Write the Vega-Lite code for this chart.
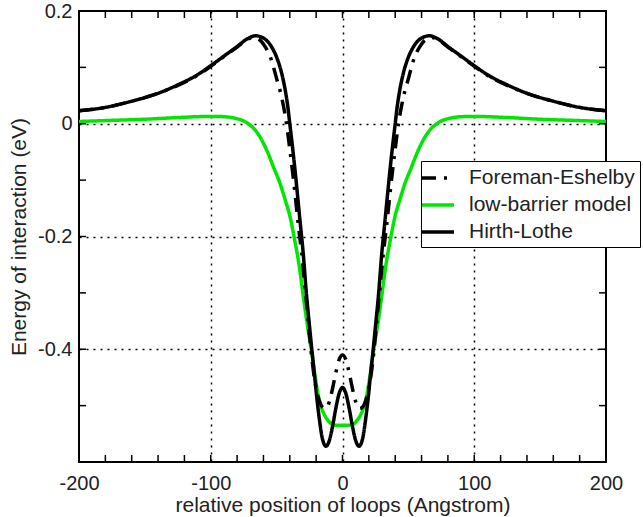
{
  "$schema": "https://vega.github.io/schema/vega-lite/v6.json",
  "width": 527,
  "height": 451,
  "autosize": "none",
  "padding": {"left": 79, "top": 11, "right": 37, "bottom": 55},
  "config": {
    "view": {"stroke": "black", "strokeWidth": 2},
    "font": "Liberation Sans"
  },
  "layer": [
    {
      "data": {"values": [
    {"series":"low-barrier model","x":-200,"y":0.004},{"series":"low-barrier model","x":-175,"y":0.006},{"series":"low-barrier model","x":-150,"y":0.008},{"series":"low-barrier model","x":-125,"y":0.011},{"series":"low-barrier model","x":-100,"y":0.013},{"series":"low-barrier model","x":-90,"y":0.0125},{"series":"low-barrier model","x":-82,"y":0.010},{"series":"low-barrier model","x":-76,"y":0.006},{"series":"low-barrier model","x":-71.5,"y":0.0},{"series":"low-barrier model","x":-66,"y":-0.012},{"series":"low-barrier model","x":-62,"y":-0.026},{"series":"low-barrier model","x":-57.5,"y":-0.047},{"series":"low-barrier model","x":-52,"y":-0.079},{"series":"low-barrier model","x":-47.4,"y":-0.106},{"series":"low-barrier model","x":-43.5,"y":-0.135},{"series":"low-barrier model","x":-39.8,"y":-0.165},{"series":"low-barrier model","x":-36.8,"y":-0.2},{"series":"low-barrier model","x":-33,"y":-0.25},{"series":"low-barrier model","x":-29.7,"y":-0.307},{"series":"low-barrier model","x":-26.5,"y":-0.36},{"series":"low-barrier model","x":-23.8,"y":-0.398},{"series":"low-barrier model","x":-21,"y":-0.445},{"series":"low-barrier model","x":-18.2,"y":-0.484},{"series":"low-barrier model","x":-15.5,"y":-0.507},{"series":"low-barrier model","x":-13.1,"y":-0.519},{"series":"low-barrier model","x":-10,"y":-0.529},{"series":"low-barrier model","x":-7,"y":-0.534},{"series":"low-barrier model","x":-3,"y":-0.535},{"series":"low-barrier model","x":0,"y":-0.535},{"series":"low-barrier model","x":3,"y":-0.535},{"series":"low-barrier model","x":7,"y":-0.534},{"series":"low-barrier model","x":10,"y":-0.529},{"series":"low-barrier model","x":13.1,"y":-0.519},{"series":"low-barrier model","x":15.5,"y":-0.507},{"series":"low-barrier model","x":18.2,"y":-0.484},{"series":"low-barrier model","x":21,"y":-0.445},{"series":"low-barrier model","x":23.8,"y":-0.398},{"series":"low-barrier model","x":26.5,"y":-0.36},{"series":"low-barrier model","x":29.7,"y":-0.307},{"series":"low-barrier model","x":33,"y":-0.25},{"series":"low-barrier model","x":36.8,"y":-0.2},{"series":"low-barrier model","x":39.8,"y":-0.165},{"series":"low-barrier model","x":43.5,"y":-0.135},{"series":"low-barrier model","x":47.4,"y":-0.106},{"series":"low-barrier model","x":52,"y":-0.079},{"series":"low-barrier model","x":57.5,"y":-0.047},{"series":"low-barrier model","x":62,"y":-0.026},{"series":"low-barrier model","x":66,"y":-0.012},{"series":"low-barrier model","x":71.5,"y":0.0},{"series":"low-barrier model","x":76,"y":0.006},{"series":"low-barrier model","x":82,"y":0.010},{"series":"low-barrier model","x":90,"y":0.0125},{"series":"low-barrier model","x":100,"y":0.013},{"series":"low-barrier model","x":125,"y":0.011},{"series":"low-barrier model","x":150,"y":0.008},{"series":"low-barrier model","x":175,"y":0.006},{"series":"low-barrier model","x":200,"y":0.004},

    {"series":"Foreman-Eshelby","x":-200,"y":0.023},{"series":"Foreman-Eshelby","x":-180,"y":0.029},{"series":"Foreman-Eshelby","x":-160,"y":0.040},{"series":"Foreman-Eshelby","x":-140,"y":0.054},{"series":"Foreman-Eshelby","x":-125,"y":0.068},{"series":"Foreman-Eshelby","x":-110,"y":0.086},{"series":"Foreman-Eshelby","x":-100,"y":0.102},{"series":"Foreman-Eshelby","x":-90,"y":0.119},{"series":"Foreman-Eshelby","x":-80,"y":0.136},{"series":"Foreman-Eshelby","x":-72,"y":0.150},{"series":"Foreman-Eshelby","x":-68,"y":0.153},{"series":"Foreman-Eshelby","x":-63,"y":0.149},{"series":"Foreman-Eshelby","x":-58.5,"y":0.136},{"series":"Foreman-Eshelby","x":-55,"y":0.12},{"series":"Foreman-Eshelby","x":-50,"y":0.08},{"series":"Foreman-Eshelby","x":-46,"y":0.045},{"series":"Foreman-Eshelby","x":-42.5,"y":0.0},{"series":"Foreman-Eshelby","x":-40,"y":-0.045},{"series":"Foreman-Eshelby","x":-38,"y":-0.083},{"series":"Foreman-Eshelby","x":-36,"y":-0.125},{"series":"Foreman-Eshelby","x":-33.5,"y":-0.18},{"series":"Foreman-Eshelby","x":-31,"y":-0.23},{"series":"Foreman-Eshelby","x":-28.5,"y":-0.29},{"series":"Foreman-Eshelby","x":-26,"y":-0.35},{"series":"Foreman-Eshelby","x":-24,"y":-0.40},{"series":"Foreman-Eshelby","x":-22,"y":-0.44},{"series":"Foreman-Eshelby","x":-19.5,"y":-0.475},{"series":"Foreman-Eshelby","x":-17,"y":-0.495},{"series":"Foreman-Eshelby","x":-15,"y":-0.503},{"series":"Foreman-Eshelby","x":-13,"y":-0.505},{"series":"Foreman-Eshelby","x":-11,"y":-0.5},{"series":"Foreman-Eshelby","x":-10,"y":-0.493},{"series":"Foreman-Eshelby","x":-7.5,"y":-0.469},{"series":"Foreman-Eshelby","x":-5,"y":-0.441},{"series":"Foreman-Eshelby","x":-2.5,"y":-0.418},{"series":"Foreman-Eshelby","x":0,"y":-0.41},{"series":"Foreman-Eshelby","x":2.5,"y":-0.418},{"series":"Foreman-Eshelby","x":5,"y":-0.441},{"series":"Foreman-Eshelby","x":7.5,"y":-0.469},{"series":"Foreman-Eshelby","x":10,"y":-0.493},{"series":"Foreman-Eshelby","x":11,"y":-0.5},{"series":"Foreman-Eshelby","x":13,"y":-0.505},{"series":"Foreman-Eshelby","x":15,"y":-0.503},{"series":"Foreman-Eshelby","x":17,"y":-0.495},{"series":"Foreman-Eshelby","x":19.5,"y":-0.475},{"series":"Foreman-Eshelby","x":22,"y":-0.44},{"series":"Foreman-Eshelby","x":24,"y":-0.40},{"series":"Foreman-Eshelby","x":26,"y":-0.35},{"series":"Foreman-Eshelby","x":28.5,"y":-0.29},{"series":"Foreman-Eshelby","x":31,"y":-0.23},{"series":"Foreman-Eshelby","x":33.5,"y":-0.18},{"series":"Foreman-Eshelby","x":36,"y":-0.125},{"series":"Foreman-Eshelby","x":38,"y":-0.083},{"series":"Foreman-Eshelby","x":40,"y":-0.045},{"series":"Foreman-Eshelby","x":42.5,"y":0.0},{"series":"Foreman-Eshelby","x":46,"y":0.045},{"series":"Foreman-Eshelby","x":50,"y":0.08},{"series":"Foreman-Eshelby","x":55,"y":0.12},{"series":"Foreman-Eshelby","x":58.5,"y":0.136},{"series":"Foreman-Eshelby","x":63,"y":0.149},{"series":"Foreman-Eshelby","x":68,"y":0.153},{"series":"Foreman-Eshelby","x":72,"y":0.150},{"series":"Foreman-Eshelby","x":80,"y":0.136},{"series":"Foreman-Eshelby","x":90,"y":0.119},{"series":"Foreman-Eshelby","x":100,"y":0.102},{"series":"Foreman-Eshelby","x":110,"y":0.086},{"series":"Foreman-Eshelby","x":125,"y":0.068},{"series":"Foreman-Eshelby","x":140,"y":0.054},{"series":"Foreman-Eshelby","x":160,"y":0.040},{"series":"Foreman-Eshelby","x":180,"y":0.029},{"series":"Foreman-Eshelby","x":200,"y":0.023},

    {"series":"Hirth-Lothe","x":-200,"y":0.023},{"series":"Hirth-Lothe","x":-180,"y":0.029},{"series":"Hirth-Lothe","x":-160,"y":0.040},{"series":"Hirth-Lothe","x":-140,"y":0.054},{"series":"Hirth-Lothe","x":-125,"y":0.069},{"series":"Hirth-Lothe","x":-110,"y":0.087},{"series":"Hirth-Lothe","x":-100,"y":0.103},{"series":"Hirth-Lothe","x":-90,"y":0.12},{"series":"Hirth-Lothe","x":-80,"y":0.137},{"series":"Hirth-Lothe","x":-72,"y":0.151},{"series":"Hirth-Lothe","x":-66,"y":0.156},{"series":"Hirth-Lothe","x":-60,"y":0.152},{"series":"Hirth-Lothe","x":-54,"y":0.137},{"series":"Hirth-Lothe","x":-50,"y":0.118},{"series":"Hirth-Lothe","x":-46,"y":0.088},{"series":"Hirth-Lothe","x":-43.5,"y":0.06},{"series":"Hirth-Lothe","x":-41.5,"y":0.03},{"series":"Hirth-Lothe","x":-40,"y":0.0},{"series":"Hirth-Lothe","x":-38,"y":-0.04},{"series":"Hirth-Lothe","x":-36,"y":-0.083},{"series":"Hirth-Lothe","x":-34,"y":-0.13},{"series":"Hirth-Lothe","x":-32,"y":-0.178},{"series":"Hirth-Lothe","x":-30,"y":-0.225},{"series":"Hirth-Lothe","x":-27.2,"y":-0.307},{"series":"Hirth-Lothe","x":-25,"y":-0.36},{"series":"Hirth-Lothe","x":-23.4,"y":-0.398},{"series":"Hirth-Lothe","x":-21.5,"y":-0.44},{"series":"Hirth-Lothe","x":-19.6,"y":-0.484},{"series":"Hirth-Lothe","x":-17.5,"y":-0.525},{"series":"Hirth-Lothe","x":-15.5,"y":-0.556},{"series":"Hirth-Lothe","x":-14,"y":-0.568},{"series":"Hirth-Lothe","x":-12.5,"y":-0.572},{"series":"Hirth-Lothe","x":-11,"y":-0.568},{"series":"Hirth-Lothe","x":-10,"y":-0.562},{"series":"Hirth-Lothe","x":-7.5,"y":-0.536},{"series":"Hirth-Lothe","x":-5,"y":-0.504},{"series":"Hirth-Lothe","x":-2.5,"y":-0.478},{"series":"Hirth-Lothe","x":0,"y":-0.468},{"series":"Hirth-Lothe","x":2.5,"y":-0.478},{"series":"Hirth-Lothe","x":5,"y":-0.504},{"series":"Hirth-Lothe","x":7.5,"y":-0.536},{"series":"Hirth-Lothe","x":10,"y":-0.562},{"series":"Hirth-Lothe","x":11,"y":-0.568},{"series":"Hirth-Lothe","x":12.5,"y":-0.572},{"series":"Hirth-Lothe","x":14,"y":-0.568},{"series":"Hirth-Lothe","x":15.5,"y":-0.556},{"series":"Hirth-Lothe","x":17.5,"y":-0.525},{"series":"Hirth-Lothe","x":19.6,"y":-0.484},{"series":"Hirth-Lothe","x":21.5,"y":-0.44},{"series":"Hirth-Lothe","x":23.4,"y":-0.398},{"series":"Hirth-Lothe","x":25,"y":-0.36},{"series":"Hirth-Lothe","x":27.2,"y":-0.307},{"series":"Hirth-Lothe","x":30,"y":-0.225},{"series":"Hirth-Lothe","x":32,"y":-0.178},{"series":"Hirth-Lothe","x":34,"y":-0.13},{"series":"Hirth-Lothe","x":36,"y":-0.083},{"series":"Hirth-Lothe","x":38,"y":-0.04},{"series":"Hirth-Lothe","x":40,"y":0.0},{"series":"Hirth-Lothe","x":41.5,"y":0.03},{"series":"Hirth-Lothe","x":43.5,"y":0.06},{"series":"Hirth-Lothe","x":46,"y":0.088},{"series":"Hirth-Lothe","x":50,"y":0.118},{"series":"Hirth-Lothe","x":54,"y":0.137},{"series":"Hirth-Lothe","x":60,"y":0.152},{"series":"Hirth-Lothe","x":66,"y":0.156},{"series":"Hirth-Lothe","x":72,"y":0.151},{"series":"Hirth-Lothe","x":80,"y":0.137},{"series":"Hirth-Lothe","x":90,"y":0.12},{"series":"Hirth-Lothe","x":100,"y":0.103},{"series":"Hirth-Lothe","x":110,"y":0.087},{"series":"Hirth-Lothe","x":125,"y":0.069},{"series":"Hirth-Lothe","x":140,"y":0.054},{"series":"Hirth-Lothe","x":160,"y":0.040},{"series":"Hirth-Lothe","x":180,"y":0.029},{"series":"Hirth-Lothe","x":200,"y":0.023}
      ]},
      "mark": {"type": "line", "strokeWidth": 3.5, "interpolate": "monotone"},
      "encoding": {
        "x": {
          "field": "x", "type": "quantitative",
          "scale": {"domain": [-200, 200], "nice": false, "zero": false},
          "axis": {
            "orient": "bottom",
            "domain": false, "ticks": false,
            "labelFont": "Liberation Sans", "labelFontSize": 20, "labelColor": "#222",
            "labelOverlap": false, "labelFlush": false, "labelBound": false,
            "title": "relative position of loops (Angstrom)",
            "titleFont": "Liberation Sans", "titleFontSize": 21, "titleFontWeight": "normal", "titleColor": "#222",
            "titlePadding": 1,
            "values": [-200,-100,0,100,200],
            "labelExpr": "datum.value < 0 ? '-' + abs(datum.value) : '' + datum.value",
            "labelPadding": 11,
            "grid": true, "gridColor": "black", "gridDash": [2, 5], "gridWidth": 1.5,
            "gridOpacity": {"condition": {"test": "abs(datum.value) < 150", "value": 1}, "value": 0}
          }
        },
        "y": {
          "field": "y", "type": "quantitative",
          "scale": {"domain": [-0.6, 0.2], "nice": false, "zero": false},
          "axis": {
            "orient": "left",
            "domain": false, "ticks": false,
            "labelFont": "Liberation Sans", "labelFontSize": 20, "labelColor": "#222",
            "labelOverlap": false, "labelBound": false,
            "title": "Energy of interaction (eV)",
            "titleFont": "Liberation Sans", "titleFontSize": 21, "titleFontWeight": "normal", "titleColor": "#222",
            "titlePadding": 8,
            "values": [-0.4,-0.2,0,0.2],
            "labelExpr": "abs(datum.value) < 1e-9 ? '0' : (datum.value < 0 ? '-' + format(-datum.value, '.1f') : format(datum.value, '.1f'))",
            "labelPadding": 7,
            "grid": true, "gridColor": "black", "gridDash": [2, 5], "gridWidth": 1.5,
            "gridOpacity": {"condition": {"test": "datum.value < 0.1", "value": 1}, "value": 0}
          }
        },
        "color": {
          "field": "series", "type": "nominal",
          "scale": {"domain": ["Foreman-Eshelby", "low-barrier model", "Hirth-Lothe"], "range": ["black", "#00e600", "black"]},
          "legend": {
            "title": null, "orient": "none", "legendX": 342, "legendY": 150,
            "strokeColor": "black", "fillColor": "white", "padding": 5,
            "labelFont": "Liberation Sans", "labelFontSize": 21, "labelColor": "#222", "labelLimit": 400,
            "symbolType": "M-1.6,0H1.6", "symbolSize": 400, "symbolStrokeWidth": 3.5,
            "labelOffset": 19, "rowPadding": 5
          }
        },
        "strokeDash": {
          "field": "series", "type": "nominal",
          "scale": {"domain": ["Foreman-Eshelby", "low-barrier model", "Hirth-Lothe"], "range": [[14, 8, 3, 8], [1, 0], [1, 0]]},
          "legend": {
            "title": null, "orient": "none", "legendX": 342, "legendY": 150,
            "strokeColor": "black", "fillColor": "white", "padding": 5,
            "labelFont": "Liberation Sans", "labelFontSize": 21, "labelColor": "#222", "labelLimit": 400,
            "symbolType": "M-1.6,0H1.6", "symbolSize": 400, "symbolStrokeWidth": 3.5,
            "labelOffset": 19, "rowPadding": 5
          }
        }
      }
    },
    {
      "data": {"values": [{"t":-180},{"t":-160},{"t":-140},{"t":-120},{"t":-100},{"t":-80},{"t":-60},{"t":-40},{"t":-20},{"t":0},{"t":20},{"t":40},{"t":60},{"t":80},{"t":100},{"t":120},{"t":140},{"t":160},{"t":180}]},
      "mark": {"type": "rule", "color": "black", "strokeWidth": 1.5},
      "encoding": {
        "x": {"field": "t", "type": "quantitative"},
        "y": {"datum": -0.6, "type": "quantitative"},
        "y2": {"datum": -0.5876}
      }
    },
    {
      "data": {"values": [{"t":-180},{"t":-160},{"t":-140},{"t":-120},{"t":-100},{"t":-80},{"t":-60},{"t":-40},{"t":-20},{"t":0},{"t":20},{"t":40},{"t":60},{"t":80},{"t":100},{"t":120},{"t":140},{"t":160},{"t":180}]},
      "mark": {"type": "rule", "color": "black", "strokeWidth": 1.5},
      "encoding": {
        "x": {"field": "t", "type": "quantitative"},
        "y": {"datum": 0.2, "type": "quantitative"},
        "y2": {"datum": 0.1876}
      }
    },
    {
      "data": {"values": [{"v":-0.5},{"v":-0.4},{"v":-0.3},{"v":-0.2},{"v":-0.1},{"v":0},{"v":0.1}]},
      "mark": {"type": "rule", "color": "black", "strokeWidth": 1.5},
      "encoding": {
        "y": {"field": "v", "type": "quantitative"},
        "x": {"datum": -200, "type": "quantitative"},
        "x2": {"datum": -194.7}
      }
    },
    {
      "data": {"values": [{"v":-0.5},{"v":-0.4},{"v":-0.3},{"v":-0.2},{"v":-0.1},{"v":0},{"v":0.1}]},
      "mark": {"type": "rule", "color": "black", "strokeWidth": 1.5},
      "encoding": {
        "y": {"field": "v", "type": "quantitative"},
        "x": {"datum": 200, "type": "quantitative"},
        "x2": {"datum": 194.7}
      }
    }
  ]
}
